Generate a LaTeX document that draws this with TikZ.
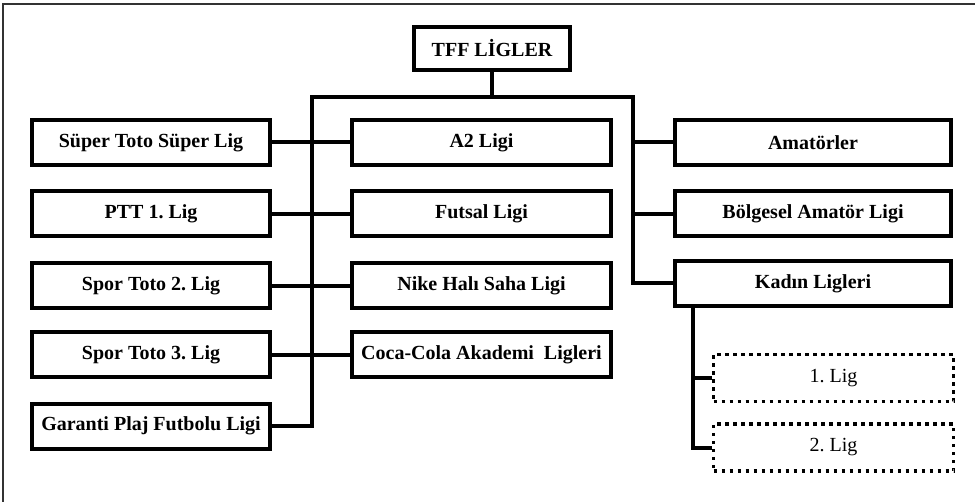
\documentclass[tikz,border=0pt]{standalone}
\usepackage{fontspec}
\setmainfont{Liberation Serif}
\begin{document}
\frenchspacing
\begin{tikzpicture}[x=0.5pt,y=-0.5pt,
   box/.style={draw,line width=2pt,inner sep=0pt,minimum height=22.5pt,font=\bfseries\fontsize{10}{12}\selectfont},
   lbox/.style={box,minimum width=119pt},
   mbox/.style={box,minimum width=129.5pt},
   rbox/.style={box,minimum width=138pt},
   dbox/.style={draw,line width=1.6pt,dash pattern=on 1.6pt off 2.4pt,inner sep=0pt,minimum width=120pt,minimum height=23.5pt,font=\fontsize{10}{12}\selectfont},
   conn/.style={line width=2pt}]
   \useasboundingbox (0,0) rectangle (975,502);

   % frame
   \draw[line width=0.75pt, color=black!80] (3,502) -- (3,4) -- (975,4);

   \node[box,minimum width=78pt,minimum height=21.5pt] (tff) at (492,48.5) {TFF LİGLER};

   % left column
   \foreach \n/\y/\t in {sup/142.5/Süper Toto Süper Lig, ptt/214/PTT 1. Lig, st2/286/Spor Toto 2. Lig, st3/355/Spor Toto 3. Lig, gpf/426/Garanti Plaj Futbolu Ligi}
      {
      \node[lbox] (\n) at (151,\y) {\t};
      }
   % middle column
   \foreach \n/\y/\t in {a2/142.5/A2 Ligi, fut/214/Futsal Ligi, hal/286/Nike Halı Saha Ligi, coc/355/Coca-Cola Akademi~~Ligleri}
      {
      \node[mbox] (\n) at (481.5,\y) {\t};
      }
   % right column
   \foreach \n/\y/\t in {ama/142.5/Amatörler, bol/214/Bölgesel Amatör Ligi, kad/283.5/Kadın Ligleri}
      {
      \node[rbox] (\n) at (813,\y) {\t};
      }
   \node[dbox] (l1) at (833.5,378) {1. Lig};
   \node[dbox] (l2) at (833.5,447.5) {2. Lig};

   % connectors
   \coordinate (lb) at (312,97);
   \coordinate (rb) at (633,97);
   \coordinate (kb) at (693,0);
   \draw[conn] (tff.south) -- (tff.south |- lb);
   \draw[conn] (gpf.east) -| (lb) -- (rb) |- (kad.west);
   \foreach \a/\b in {sup/a2, ptt/fut, st2/hal, st3/coc}
      {
      \draw[conn] (\a.east) -- (\b.west);
      }
   \foreach \r in {ama, bol}
      {
      \draw[conn] (\r.west -| rb) -- (\r.west);
      }
   \draw[conn] (kad.south -| kb) |- (l2.west);
   \draw[conn] (l1.west -| kb) -- (l1.west);

\end{tikzpicture}
\end{document}
